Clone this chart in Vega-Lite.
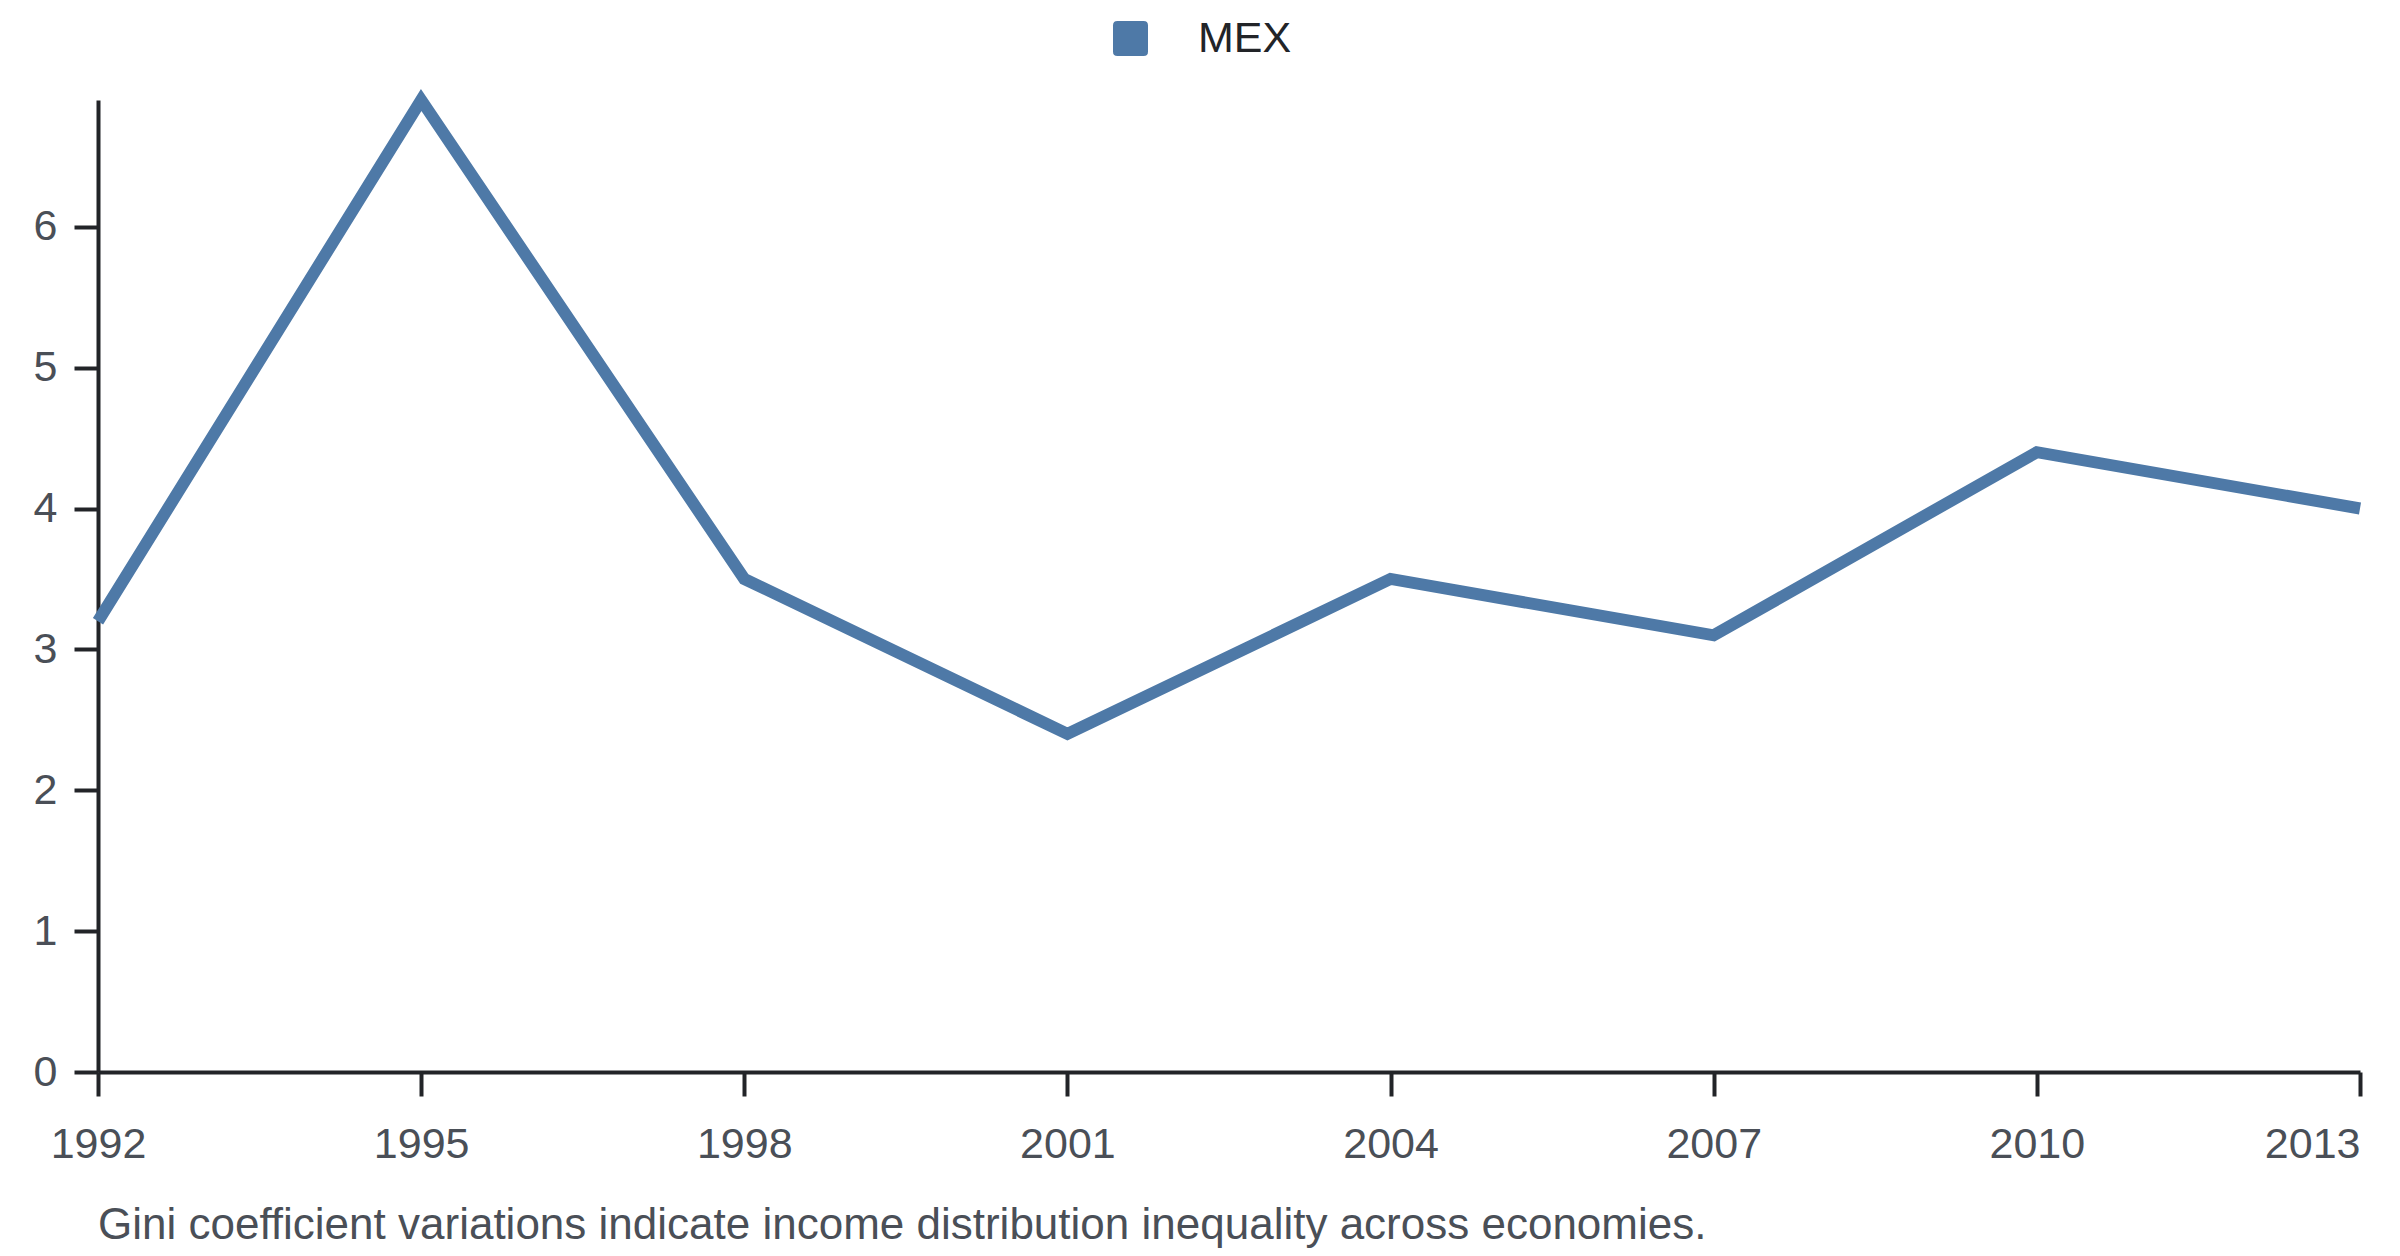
{
  "$schema": "https://vega.github.io/schema/vega-lite/v6.json",
  "autosize": "none",
  "width": 2262,
  "height": 972,
  "padding": {"left": 98, "top": 100, "right": 40, "bottom": 184},
  "background": "white",
  "config": {
    "view": {"stroke": null},
    "font": "Liberation Sans",
    "axis": {
      "domainColor": "#222428",
      "domainWidth": 4,
      "tickColor": "#222428",
      "tickWidth": 4,
      "tickSize": 24,
      "labelFont": "Liberation Sans",
      "labelFontSize": 43,
      "labelColor": "#4a4f57",
      "grid": false,
      "title": null
    },
    "legend": {
      "labelFont": "Liberation Sans",
      "labelFontSize": 43,
      "labelColor": "#222428",
      "padding": 0
    }
  },
  "title": {
    "text": "Gini coefficient variations indicate income distribution inequality across economies.",
    "orient": "bottom",
    "anchor": "start",
    "frame": "group",
    "fontSize": 44,
    "fontWeight": "normal",
    "font": "Liberation Sans",
    "color": "#4a4f57",
    "offset": 38
  },
  "data": {
    "values": [
      {"year": 1992, "value": 3.2, "country": "MEX"},
      {"year": 1995, "value": 6.9, "country": "MEX"},
      {"year": 1998, "value": 3.5, "country": "MEX"},
      {"year": 2001, "value": 2.4, "country": "MEX"},
      {"year": 2004, "value": 3.5, "country": "MEX"},
      {"year": 2007, "value": 3.1, "country": "MEX"},
      {"year": 2010, "value": 4.4, "country": "MEX"},
      {"year": 2013, "value": 4.0, "country": "MEX"}
    ]
  },
  "mark": {"type": "line", "strokeWidth": 12, "strokeCap": "butt", "strokeJoin": "miter"},
  "encoding": {
    "x": {
      "field": "year",
      "type": "quantitative",
      "scale": {"domain": [1992, 2013], "nice": false, "zero": false},
      "axis": {
        "values": [1992, 1995, 1998, 2001, 2004, 2007, 2010, 2013],
        "format": "d",
        "labelPadding": 27,
        "labelAlign": {"expr": "datum.value == 2013 ? 'right' : 'center'"},
        "labelBound": false,
        "labelOverlap": false,
        "labelFlush": false
      }
    },
    "y": {
      "field": "value",
      "type": "quantitative",
      "scale": {"domain": [0, 6.9], "nice": false},
      "axis": {
        "values": [0, 1, 2, 3, 4, 5, 6],
        "labelPadding": 17
      }
    },
    "color": {
      "field": "country",
      "type": "nominal",
      "scale": {"range": ["#4e79a7"]},
      "legend": {
        "title": null,
        "orient": "none",
        "legendX": 1011,
        "legendY": -83,
        "direction": "horizontal",
        "symbolType": "M-1,-0.75Q-1,-1,-0.75,-1L0.75,-1Q1,-1,1,-0.75L1,0.75Q1,1,0.75,1L-0.75,1Q-1,1,-1,0.75Z",
        "symbolSize": 1225,
        "symbolFillColor": "#4e79a7",
        "symbolStrokeWidth": 0,
        "labelOffset": 46
      }
    }
  }
}
